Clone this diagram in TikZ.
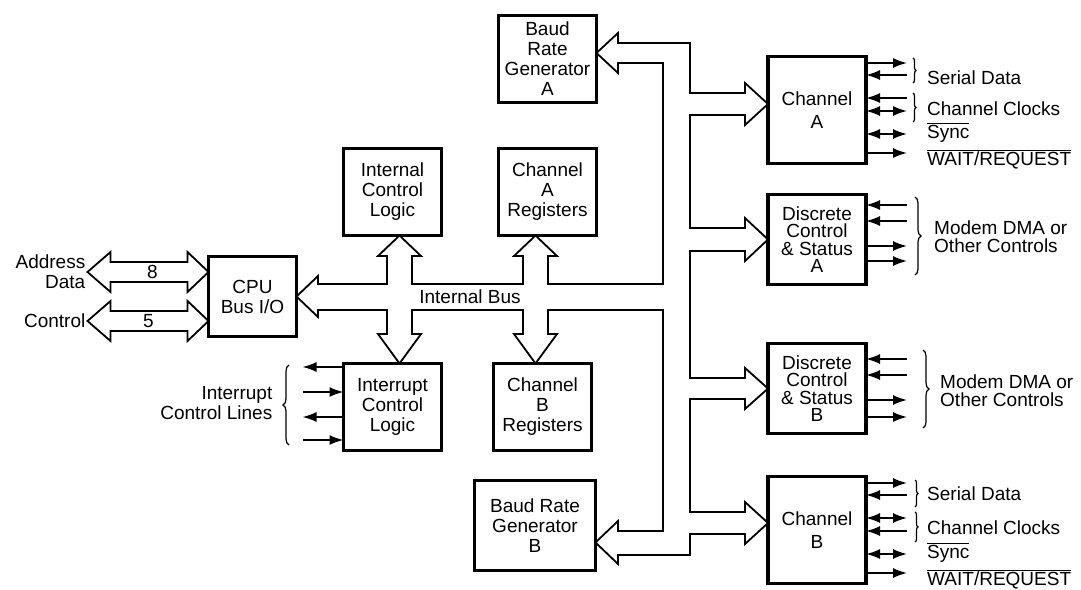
\documentclass[tikz,border=0pt]{standalone}
\usepackage{fontspec}
\setmainfont{Liberation Sans}
\usetikzlibrary{positioning,calc,arrows.meta,decorations.pathreplacing}
\newcommand{\barsig}[1]{$\overline{\mbox{#1}}$}

\begin{document}
\begin{tikzpicture}
  [x=1pt, y=-1pt,
  block/.style={
    rectangle,
    draw,
    line width=3.5pt,
    minimum width=98pt,
    minimum height=87pt,
    inner sep=2pt,
    outer sep=0pt,
    align=center,
    font=\fontsize{19}{20}\selectfont
    },
  lbl/.style={font=\fontsize{19}{20}\selectfont, inner sep=2pt},
  bus/.style={line width=1.8pt, line join=miter},
  sig/.style={line width=1.7pt, >={Latex[length=14pt,width=10pt]}},
  brc/.style={decorate, decoration={brace, amplitude=#1}, line width=1.2pt}
  ]
  \useasboundingbox (0,0) rectangle (1081,589);

  \node [block, minimum width=88pt, minimum height=80pt] (cpu) at (252.5,296.5) {CPU\\Bus I/O};
  \node [block] (icl) at (392.5,192) {Internal\\Control\\Logic};
  \node [block, right=57pt of icl] (charegs) {Channel\\A\\Registers};
  \node [block, below=128pt of icl] (intctl) {Interrupt\\Control\\Logic};
  \node [block, right=52pt of intctl] (chbregs) {Channel\\B\\Registers};
  \node [block, above=46pt of charegs] (brga) {Baud\\Rate\\Generator\\A};
  \node [block, minimum width=121pt, minimum height=90pt] (brgb) at (535,525.5) {Baud Rate\\Generator\\B};

  \node [block, minimum height=107pt, font=\fontsize{19}{23}\selectfont] (cha) at (817,110) {Channel\\A};
  \node [block, minimum height=90pt, below=31pt of cha, font=\fontsize{19}{17.5}\selectfont] (dcsa)
    {Discrete\\Control\\\& Status\\A};
  \node [block, minimum height=90pt, below=59pt of dcsa, font=\fontsize{19}{17.5}\selectfont] (dcsb)
    {Discrete\\Control\\\& Status\\B};
  \node [block, minimum height=107pt, below=43pt of dcsb, font=\fontsize{19}{23}\selectfont] (chb) {Channel\\B};

  % bus interno
  \draw [bus] (cpu.east) -- (318,276) -- (318,284) -- (387,284) -- (387,256) -- (378,256)
    -- ($(icl.south)+(7,0)$) -- (421,256) -- (412,256) -- (412,284)
    -- (523,284) -- (523,256) -- (514,256) -- ($(charegs.south)+(-12,0)$) -- (557,256) -- (548,256) -- (548,284)
    -- (663,284) -- (663,63) -- (618,63) -- (618,73) -- ($(brga.east)+(0,-6)$) -- (618,33) -- (618,43)
    -- (690,43) -- (690,93) -- (745,93) -- (745,83) -- ($(cha.west)+(0,-6)$) -- (745,125) -- (745,115)
    -- (690,115) -- (690,228) -- (745,228) -- (745,218) -- (dcsa.west) -- (745,261) -- (745,251)
    -- (690,251) -- (690,378) -- (745,378) -- (745,368) -- (dcsb.west) -- (745,409) -- (745,399)
    -- (690,399) -- (690,512) -- (745,512) -- (745,502) -- ($(chb.west)+(0,-7)$) -- (745,544) -- (745,534)
    -- (690,534) -- (690,555) -- (618,555) -- (618,564) -- ($(brgb.east)+(0,17)$) -- (618,521) -- (618,531)
    -- (663,531) -- (663,310) -- (548,310) -- (548,334) -- (557,334) -- ($(chbregs.north)+(-7,0)$)
    -- (514,334) -- (523,334) -- (523,310)
    -- (412,310) -- (412,334) -- (421,334) -- ($(intctl.north)+(7,0)$) -- (378,334) -- (387,334) -- (387,310)
    -- (318,310) -- (318,317) -- cycle;
  \node [lbl] (ibus) at (470,297) {Internal Bus};

  % lato CPU
  \node [lbl, anchor=east, align=right] (addr) at ($(cpu.west)+(-121,-24.5)$) {Address\\Data};
  \node [lbl, anchor=east] (ctrl) at ($(cpu.west)+(-121,24.5)$) {Control};
  \draw [bus] (addr.east) -- ++(23,-20) -- ++(0,10) -- ++(77,0) -- ++(0,-10) -- ($(cpu.west)+(0,-24.5)$)
    -- ++(-21,20) -- ++(0,-10) -- ++(-77,0) -- ++(0,10) -- cycle;
  \draw [bus] (ctrl.east) -- ++(23,-20) -- ++(0,10) -- ++(77,0) -- ++(0,-10) -- ($(cpu.west)+(0,24.5)$)
    -- ++(-21,20) -- ++(0,-10) -- ++(-77,0) -- ++(0,10) -- cycle;
  \node [lbl] (addrw) at ($(cpu.west)+(-56,-24.5)$) {8};
  \node [lbl] (ctrlw) at ($(cpu.west)+(-60,24.5)$) {5};

  % linee di interrupt
  \draw [sig,->] ($(intctl.west)+(0,-40)$) -- ++(-41,0);
  \draw [sig,<-] ($(intctl.west)+(0,-15)$) -- ++(-41,0);
  \draw [sig,->] ($(intctl.west)+(0,10)$) -- ++(-41,0);
  \draw [sig,<-] ($(intctl.west)+(0,33)$) -- ++(-41,0);
  \draw [brc=6pt] ($(intctl.west)+(-54.5,38)$) -- ($(intctl.west)+(-54.5,-42)$);
  \node [lbl, anchor=east, align=right] (intlines) at ($(intctl.west)+(-69,-4)$) {Interrupt\\Control Lines};

  % canale A
  \draw [sig,->] ($(cha.east)+(0,-47)$) -- ++(41,0);
  \draw [sig,<-] ($(cha.east)+(0,-35)$) -- ++(41,0);
  \draw [sig,<-] ($(cha.east)+(0,-12)$) -- ++(41,0);
  \draw [sig,<->] ($(cha.east)+(0,1)$) -- ++(41,0);
  \draw [sig,<->] ($(cha.east)+(0,24)$) -- ++(41,0);
  \draw [sig,->] ($(cha.east)+(0,43)$) -- ++(41,0);
  \draw [brc=3pt] ($(cha.east)+(47,-52)$) -- ($(cha.east)+(47,-27)$);
  \draw [brc=3pt] ($(cha.east)+(47,-17)$) -- ($(cha.east)+(47,12)$);
  \node [lbl, anchor=base west] (chasd) at ($(cha.east)+(59,-26)$) {Serial Data};
  \node [lbl, anchor=base west] (chaclk) at ($(cha.east)+(59,5)$) {Channel Clocks};
  \node [lbl, anchor=base west] (chasync) at ($(cha.east)+(59,28)$) {\barsig{Sync}};
  \node [lbl, anchor=base west] (chawait) at ($(cha.east)+(59,55)$) {\barsig{WAIT/REQUEST}};

  % controlli discreti A
  \draw [sig,<-] ($(dcsa.east)+(0,-34.5)$) -- ++(41,0);
  \draw [sig,<-] ($(dcsa.east)+(0,-18.5)$) -- ++(41,0);
  \draw [sig,->] ($(dcsa.east)+(0,6.5)$) -- ++(41,0);
  \draw [sig,->] ($(dcsa.east)+(0,21.5)$) -- ++(41,0);
  \draw [brc=6pt] ($(dcsa.east)+(49,-42.5)$) -- ($(dcsa.east)+(49,35.5)$);
  \node [lbl, anchor=west, align=left, font=\fontsize{19}{18}\selectfont] (dcsasig) at ($(dcsa.east)+(66,-2.5)$)
    {Modem DMA or\\Other Controls};

  % controlli discreti B
  \draw [sig,<-] ($(dcsb.east)+(0,-29.5)$) -- ++(41,0);
  \draw [sig,<-] ($(dcsb.east)+(0,-13.5)$) -- ++(41,0);
  \draw [sig,->] ($(dcsb.east)+(0,11.5)$) -- ++(41,0);
  \draw [sig,->] ($(dcsb.east)+(0,28.5)$) -- ++(41,0);
  \draw [brc=6pt] ($(dcsb.east)+(57,-38.5)$) -- ($(dcsb.east)+(57,39.5)$);
  \node [lbl, anchor=west, align=left, font=\fontsize{19}{18}\selectfont] (dcsbsig) at ($(dcsb.east)+(72,2.5)$)
    {Modem DMA or\\Other Controls};

  % canale B
  \draw [sig,->] ($(chb.east)+(0,-47)$) -- ++(41,0);
  \draw [sig,<-] ($(chb.east)+(0,-35)$) -- ++(41,0);
  \draw [sig,<->] ($(chb.east)+(0,-12)$) -- ++(41,0);
  \draw [sig,<-] ($(chb.east)+(0,1)$) -- ++(41,0);
  \draw [sig,<->] ($(chb.east)+(0,24)$) -- ++(41,0);
  \draw [sig,->] ($(chb.east)+(0,43)$) -- ++(41,0);
  \draw [brc=3pt] ($(chb.east)+(49,-50)$) -- ($(chb.east)+(49,-23)$);
  \draw [brc=3pt] ($(chb.east)+(49,-18)$) -- ($(chb.east)+(49,12)$);
  \node [lbl, anchor=base west] (chbsd) at ($(chb.east)+(59,-30)$) {Serial Data};
  \node [lbl, anchor=base west] (chbclk) at ($(chb.east)+(59,4)$) {Channel Clocks};
  \node [lbl, anchor=base west] (chbsync) at ($(chb.east)+(59,28)$) {\barsig{Sync}};
  \node [lbl, anchor=base west] (chbwait) at ($(chb.east)+(59,55)$) {\barsig{WAIT/REQUEST}};
\end{tikzpicture}
\end{document}
